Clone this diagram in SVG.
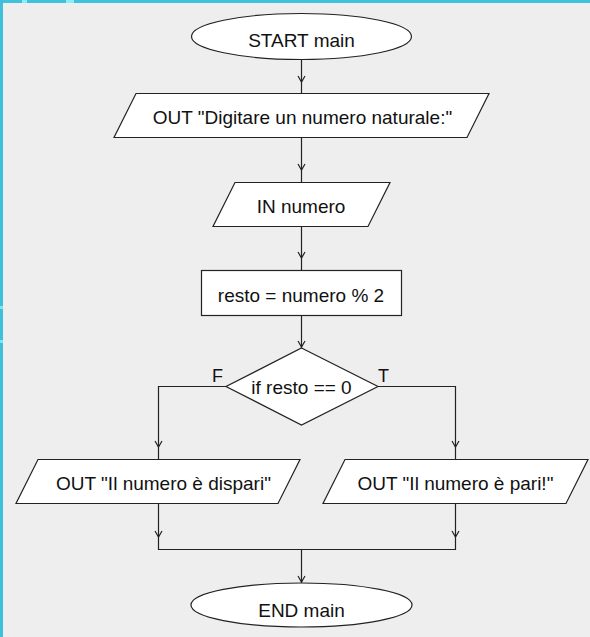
<svg xmlns="http://www.w3.org/2000/svg" width="590" height="637" viewBox="0 0 590 637">
  <style>
    .shape { fill: #ffffff; stroke: #222222; stroke-width: 1.2; }
    .conn { fill: none; stroke: #222222; stroke-width: 1.2; }
    .lbl { font-family: "Liberation Sans", Arial, sans-serif; font-size: 19px; fill: #111111; text-anchor: middle; }
    .tf { font-family: "Liberation Sans", Arial, sans-serif; font-size: 18px; fill: #111111; }
  </style>
  <defs>
    <path id="ah" d="M-3.5,-6 L0,0 L3.5,-6" fill="none" stroke="#222222" stroke-width="1.2"/>
  </defs>
  <rect x="0" y="0" width="590" height="637" fill="#eeeeee"/>
  <rect x="0" y="0" width="590" height="3" fill="#40c2dc"/>
  <rect x="0" y="0" width="3" height="637" fill="#3fbfda"/>
  <rect x="22" y="0" width="5" height="3" fill="#8beef5"/>
  <rect x="66" y="0" width="8" height="3" fill="#8beef5"/>
  <rect x="0" y="306" width="3" height="3" fill="#7ee6f0"/>
  <rect x="0" y="340" width="3" height="3" fill="#7ee6f0"/>

  <g id="connectors">
    <path class="conn" d="M301.5,59 V93.5"/>
    <use href="#ah" x="301.5" y="82"/>
    <path class="conn" d="M301.5,137.5 V182.5"/>
    <use href="#ah" x="301.5" y="170"/>
    <path class="conn" d="M301.5,226.5 V270.5"/>
    <use href="#ah" x="301.5" y="258"/>
    <path class="conn" d="M301.5,315.5 V348"/>
    <use href="#ah" x="301.5" y="347"/>
    <path class="conn" d="M226,386.5 H158.5 V459.5"/>
    <use href="#ah" x="158.5" y="447"/>
    <path class="conn" d="M378,386.5 H455.5 V459.5"/>
    <use href="#ah" x="455.5" y="447"/>
    <path class="conn" d="M158.5,503.5 V549.5 H455.5 V503.5"/>
    <use href="#ah" x="158.5" y="537"/>
    <use href="#ah" x="455.5" y="537"/>
    <path class="conn" d="M301.5,549.5 V583"/>
    <use href="#ah" x="301.5" y="582"/>
    <text class="tf" x="212" y="382">F</text>
    <text class="tf" x="378" y="382">T</text>
  </g>

  <g id="start">
    <ellipse class="shape" cx="301.5" cy="36.5" rx="110" ry="23"/>
    <text class="lbl" x="301.5" y="46.5">START main</text>
  </g>
  <g id="out-digitare">
    <polygon class="shape" points="136,93.5 489,93.5 467,137.5 114,137.5"/>
    <text class="lbl" x="302.5" y="124">OUT "Digitare un numero naturale:"</text>
  </g>
  <g id="in-numero">
    <polygon class="shape" points="235,182.5 390,182.5 368,226.5 213,226.5"/>
    <text class="lbl" x="301" y="213">IN numero</text>
  </g>
  <g id="resto">
    <rect class="shape" x="201.5" y="270.5" width="200" height="45"/>
    <text class="lbl" x="301" y="302">resto = numero % 2</text>
  </g>
  <g id="if-resto">
    <polygon class="shape" points="301.5,348 378,386.5 301.5,425 226,386.5"/>
    <text class="lbl" x="301.5" y="394">if resto == 0</text>
  </g>
  <g id="out-dispari">
    <polygon class="shape" points="38,459.5 300,459.5 278,503.5 16,503.5"/>
    <text class="lbl" x="163.5" y="490">OUT "Il numero è dispari"</text>
  </g>
  <g id="out-pari">
    <polygon class="shape" points="345,459.5 588,459.5 566,503.5 323,503.5"/>
    <text class="lbl" x="455.5" y="490">OUT "Il numero è pari!"</text>
  </g>
  <g id="end">
    <ellipse class="shape" cx="301.5" cy="605" rx="110.5" ry="22"/>
    <text class="lbl" x="301.5" y="617">END main</text>
  </g>
</svg>
